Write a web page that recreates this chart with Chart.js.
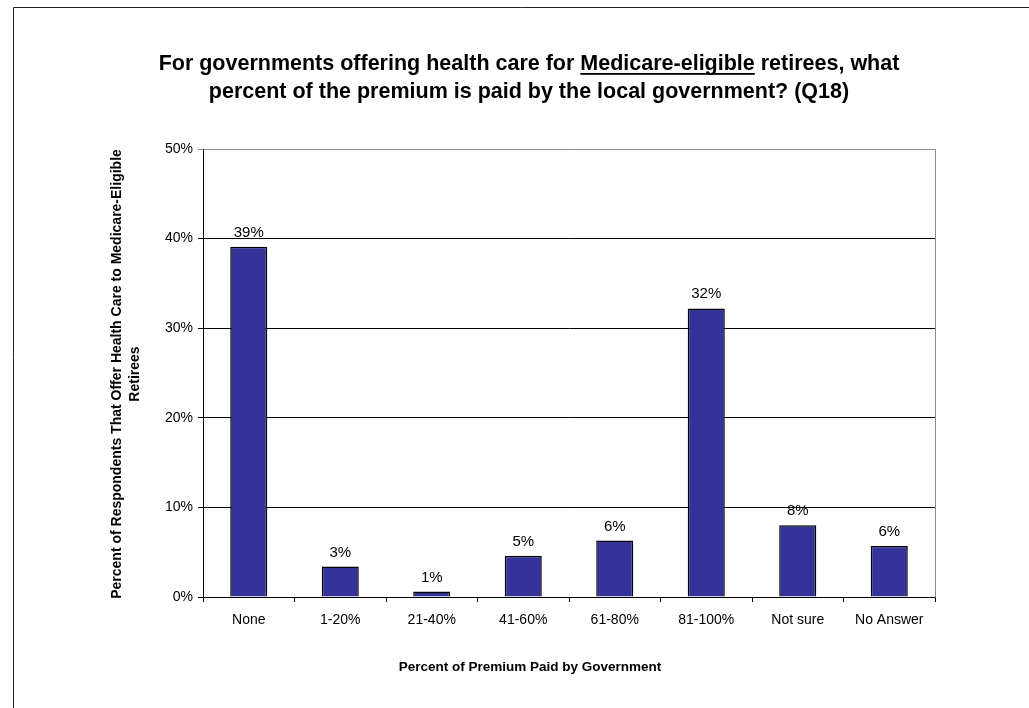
<!DOCTYPE html>
<html>
<head>
<meta charset="utf-8">
<title>Retiree health care premium share</title>
<script src="https://cdn.jsdelivr.net/npm/chart.js@4.4.1/dist/chart.umd.min.js"></script>
<style>
  html, body { margin: 0; padding: 0; background: #ffffff; }
  canvas { display: block; }
</style>
</head>
<body>
<canvas id="chart" width="1029" height="708"></canvas>
<script>
// Share of premium paid by the local government, Medicare-eligible retirees (Q18)
const categories = ['None', '1-20%', '21-40%', '41-60%', '61-80%', '81-100%', 'Not sure', 'No Answer'];
const shareValues = [39.1, 3.4, 0.6, 4.6, 6.3, 32.2, 8.0, 5.7];
const yTickValues = [0, 10, 20, 30, 40, 50];

const titlePrefix = 'For governments offering health care for ';
const titleUnderlined = 'Medicare-eligible';
const titleSuffix = ' retirees, what';
const titleLine2 = 'percent of the premium is paid by the local government? (Q18)';
const yTitleLines = ['Percent of Respondents That Offer Health Care to Medicare-Eligible', 'Retirees'];
const xTitle = 'Percent of Premium Paid by Government';

const FONT = '"Liberation Sans", Arial, Helvetica, sans-serif';
const CENTER_X = 529;

// Frame, headings and value labels drawn straight onto the canvas
const decorations = {
  id: 'decorations',
  beforeDraw(chart) {
    const c = chart.ctx;
    c.save();
    c.fillStyle = '#ffffff';
    c.fillRect(0, 0, chart.width, chart.height);
    c.strokeStyle = '#222222';
    c.lineWidth = 1;
    c.beginPath();
    c.moveTo(13.5, chart.height);
    c.lineTo(13.5, 7.5);
    c.lineTo(chart.width, 7.5);
    c.stroke();
    c.restore();
  },
  afterDraw(chart) {
    const c = chart.ctx;
    const area = chart.chartArea;
    c.save();

    // plot frame on the top and right
    c.strokeStyle = '#8c8c8c';
    c.lineWidth = 1;
    c.beginPath();
    c.moveTo(Math.round(area.left) + 0.5, Math.round(area.top) + 0.5);
    c.lineTo(Math.round(area.right) + 0.5, Math.round(area.top) + 0.5);
    c.lineTo(Math.round(area.right) + 0.5, Math.round(area.bottom) + 0.5);
    c.stroke();

    // main heading, with the underlined phrase
    c.fillStyle = '#000000';
    c.font = 'bold 21.5px ' + FONT;
    c.textBaseline = 'alphabetic';
    c.textAlign = 'left';
    const w1 = c.measureText(titlePrefix).width;
    const w2 = c.measureText(titleUnderlined).width;
    const w3 = c.measureText(titleSuffix).width;
    const x = CENTER_X - (w1 + w2 + w3) / 2;
    const y1 = 70;
    c.fillText(titlePrefix, x, y1);
    c.fillText(titleUnderlined, x + w1, y1);
    c.fillText(titleSuffix, x + w1 + w2, y1);
    c.fillRect(x + w1, y1 + 3, w2, 1.8);
    c.textAlign = 'center';
    c.fillText(titleLine2, CENTER_X, 98);

    // axis titles
    c.font = 'bold 13.5px ' + FONT;
    c.textBaseline = 'middle';
    c.fillText(xTitle, 530, 667);
    c.font = 'bold 14px ' + FONT;
    c.save();
    c.translate(117, 374);
    c.rotate(-Math.PI / 2);
    c.fillText(yTitleLines[0], 0, 0);
    c.fillText(yTitleLines[1], 0, 18);
    c.restore();

    // value labels above the bars
    const meta = chart.getDatasetMeta(0);
    c.font = '15px ' + FONT;
    c.textBaseline = 'alphabetic';
    c.textAlign = 'center';
    meta.data.forEach((bar, i) => {
      const v = chart.data.datasets[0].data[i];
      c.fillText(Math.round(v) + '%', bar.x, bar.y - 10);
    });
    c.restore();
  }
};

new Chart(document.getElementById('chart'), {
  type: 'bar',
  data: {
    labels: categories,
    datasets: [{
      data: shareValues,
      backgroundColor: '#333399',
      borderColor: '#000000',
      borderWidth: 1.5,
      categoryPercentage: 1,
      barPercentage: 0.405
    }]
  },
  options: {
    responsive: false,
    animation: false,
    events: [],
    layout: { padding: { left: 143, right: 94, top: 149, bottom: 60 } },
    plugins: {
      legend: { display: false },
      title: { display: false },
      tooltip: { enabled: false }
    },
    scales: {
      x: {
        grid: {
          offset: true,
          drawOnChartArea: false,
          drawTicks: true,
          tickLength: 5,
          color: '#000000'
        },
        border: { display: true, color: '#000000', width: 1 },
        ticks: {
          color: '#000000',
          font: { family: FONT, size: 14 },
          padding: 10,
          maxRotation: 0,
          autoSkip: false
        },
        afterFit(scale) { scale.height = 51; }
      },
      y: {
        min: 0,
        max: 50,
        afterBuildTicks(scale) {
          scale.ticks = yTickValues.map(v => ({ value: v }));
        },
        grid: {
          drawTicks: true,
          tickLength: 5,
          color: ctx => (ctx.tick && ctx.tick.value === 50 ? '#8c8c8c' : '#000000'),
          lineWidth: 1
        },
        border: { display: true, color: '#000000', width: 1 },
        ticks: {
          color: '#000000',
          font: { family: FONT, size: 14 },
          padding: 5,
          callback: v => v + '%'
        },
        afterFit(scale) { scale.width = 60; }
      }
    }
  },
  plugins: [decorations]
});
</script>
</body>
</html>
